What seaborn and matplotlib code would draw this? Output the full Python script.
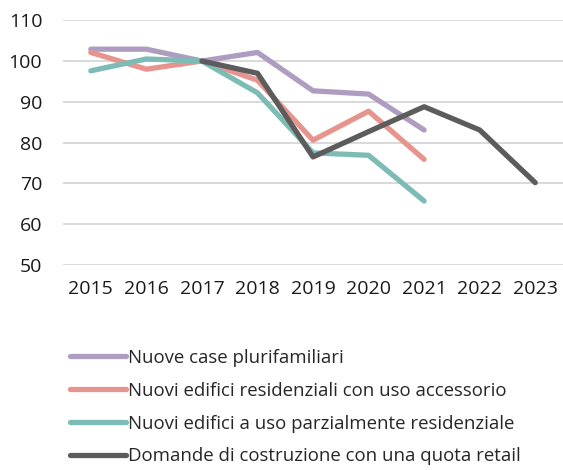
import numpy as np
import pandas as pd
import matplotlib
matplotlib.use("Agg")
import matplotlib.pyplot as plt
import seaborn as sns

years = [2015, 2016, 2017, 2018, 2019, 2020, 2021, 2022, 2023]
case_plurifamiliari = [102.9, 102.9, 100.0, 102.1, 92.7, 91.9, 83.1, np.nan, np.nan]
uso_accessorio = [102.1, 98.0, 100.0, 95.3, 80.6, 87.7, 75.9, np.nan, np.nan]
parz_residenziale = [97.6, 100.5, 100.0, 92.2, 77.5, 76.9, 65.7, np.nan, np.nan]
quota_retail = [np.nan, np.nan, 100.0, 97.0, 76.5, 82.7, 88.8, 83.1, 70.2]

series_names = [
    "Nuove case plurifamiliari",
    "Nuovi edifici residenziali con uso accessorio",
    "Nuovi edifici a uso parzialmente residenziale",
    "Domande di costruzione con una quota retail",
]
colors = ["#af9dc1", "#e8948e", "#7dbcb5", "#5c5c5c"]
y_ticks = [50, 60, 70, 80, 90, 100, 110]

df = pd.DataFrame({
    "Anno": years * 4,
    "Indice": case_plurifamiliari + uso_accessorio + parz_residenziale + quota_retail,
    "Serie": [n for n in series_names for _ in years],
})
df = df.dropna()

sns.set_style("white")
plt.rcParams["font.family"] = ["Open Sans", "DejaVu Sans"]

fig = plt.figure(figsize=(5.63, 4.70), dpi=100)
ax = fig.add_axes([0.112, 0.436, 0.888, 0.521])

sns.lineplot(data=df, x="Anno", y="Indice", hue="Serie", hue_order=series_names,
             palette=colors, linewidth=3.8, ax=ax, legend=True)
for line in ax.get_lines():
    line.set_solid_capstyle("round")
    line.set_solid_joinstyle("round")

ax.set_xlim(2014.5, 2023.5)
ax.set_ylim(50, 110)
ax.set_xticks(years)
ax.set_xticklabels([str(y) for y in years])
ax.set_yticks(y_ticks)
ax.set_xlabel("")
ax.set_ylabel("")
ax.grid(axis="y", color="#d9d9d9", linewidth=1.4)
ax.set_axisbelow(True)
for s in ax.spines.values():
    s.set_visible(False)
ax.tick_params(axis="both", length=0, labelsize=14, colors="#1a1a1a")
ax.tick_params(axis="y", pad=15)
ax.tick_params(axis="x", pad=11)

handles, labels = ax.get_legend_handles_labels()
ax.legend_.remove()
for h in handles:
    h.set_linewidth(3.8)
    h.set_solid_capstyle("round")
fig.legend(handles, labels, loc="upper left", bbox_to_anchor=(0.124, 0.258),
           frameon=False, fontsize=13.4, handlelength=3.0, handletextpad=0.15,
           labelspacing=0.8, borderaxespad=0, borderpad=0)

fig.savefig("out.png", dpi=100)
